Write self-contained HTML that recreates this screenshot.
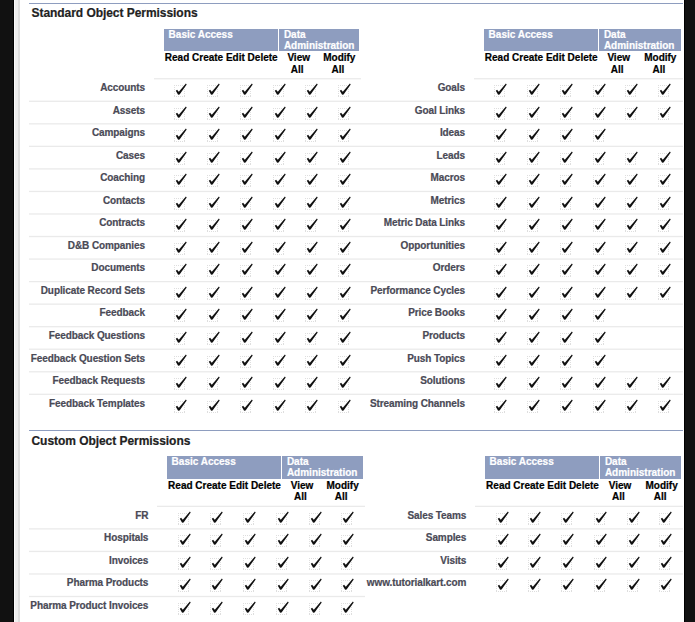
<!DOCTYPE html>
<html><head><meta charset="utf-8"><style>
html,body{margin:0;padding:0;width:695px;height:622px;overflow:hidden;background:#111;}
body{position:relative;font-family:"Liberation Sans",sans-serif;font-weight:700;}
body>div{position:absolute;white-space:nowrap;-webkit-text-stroke:0.2px currentColor;}
svg{display:block;}
</style></head><body>
<svg width="0" height="0" style="position:absolute"><defs><symbol id="ck" viewBox="0 0 18 18"><g fill="#dedede"><rect x="2" y="3" width="1" height="1"/><rect x="2" y="14" width="1" height="1"/><rect x="4" y="3" width="1" height="1"/><rect x="4" y="14" width="1" height="1"/><rect x="6" y="3" width="1" height="1"/><rect x="6" y="14" width="1" height="1"/><rect x="8" y="3" width="1" height="1"/><rect x="8" y="14" width="1" height="1"/><rect x="10" y="3" width="1" height="1"/><rect x="10" y="14" width="1" height="1"/><rect x="12" y="3" width="1" height="1"/><rect x="12" y="14" width="1" height="1"/><rect x="2" y="5" width="1" height="1"/><rect x="12" y="5" width="1" height="1"/><rect x="2" y="7" width="1" height="1"/><rect x="12" y="7" width="1" height="1"/><rect x="2" y="9" width="1" height="1"/><rect x="12" y="9" width="1" height="1"/><rect x="2" y="11" width="1" height="1"/><rect x="12" y="11" width="1" height="1"/><rect x="2" y="13" width="1" height="1"/><rect x="12" y="13" width="1" height="1"/></g><path d="M3.8 8.7 L5.1 7.7 L6.8 9.8 L13.9 1.6 L14.7 2.4 L7.6 12.4 L6.1 12.8 Z" fill="#111"/></symbol></defs></svg><div style="left:13px;top:0;width:1px;height:622px;background:#000"></div>
<div style="left:14px;top:0;width:1px;height:622px;background:#fafafa"></div>
<div style="left:15px;top:0;width:3px;height:622px;background:#eee"></div>
<div style="left:18px;top:0;width:2px;height:622px;background:#dedede"></div>
<div style="left:20px;top:0;width:664px;height:622px;background:#fff"></div>
<div style="left:684px;top:0;width:1px;height:622px;background:#000"></div>
<div style="left:29px;top:3px;width:654px;height:1px;background:#8e9dbf"></div>
<div style="left:31.5px;top:7px;font-size:12px;line-height:12px;color:#222;letter-spacing:-0.05px;">Standard Object Permissions</div>
<div style="left:164px;top:29px;width:114px;height:22px;background:#8e9dbf"></div>
<div style="left:279px;top:29px;width:80px;height:22px;background:#8e9dbf"></div>
<div style="left:168.6px;top:30px;font-size:10px;line-height:10px;color:#fff;letter-spacing:0px;">Basic Access</div>
<div style="left:283.9px;top:30px;font-size:10px;line-height:10px;color:#fff;letter-spacing:0px;">Data</div>
<div style="left:283.9px;top:41px;font-size:10px;line-height:10px;color:#fff;letter-spacing:0px;">Administration</div>
<div style="left:164.8px;top:53px;font-size:10px;line-height:10px;color:#000;letter-spacing:0px;">Read Create Edit Delete</div>
<div style="left:248.7px;width:100px;text-align:center;top:53px;font-size:10px;line-height:10px;color:#000;letter-spacing:0px;">View</div>
<div style="left:247.2px;width:100px;text-align:center;top:65px;font-size:10px;line-height:10px;color:#000;letter-spacing:0px;">All</div>
<div style="left:289.3px;width:100px;text-align:center;top:53px;font-size:10px;line-height:10px;color:#000;letter-spacing:0px;">Modify</div>
<div style="left:287.8px;width:100px;text-align:center;top:65px;font-size:10px;line-height:10px;color:#000;letter-spacing:0px;">All</div>
<div style="right:550px;top:83px;font-size:10px;line-height:10px;color:#4a4a56;letter-spacing:-0.09px;">Accounts</div>
<div style="left:172.4px;top:82.05px;width:18px;height:18px"><svg width="18" height="18"><use href="#ck"/></svg></div>
<div style="left:205.14px;top:82.05px;width:18px;height:18px"><svg width="18" height="18"><use href="#ck"/></svg></div>
<div style="left:237.88px;top:82.05px;width:18px;height:18px"><svg width="18" height="18"><use href="#ck"/></svg></div>
<div style="left:270.62px;top:82.05px;width:18px;height:18px"><svg width="18" height="18"><use href="#ck"/></svg></div>
<div style="left:303.36px;top:82.05px;width:18px;height:18px"><svg width="18" height="18"><use href="#ck"/></svg></div>
<div style="left:336.1px;top:82.05px;width:18px;height:18px"><svg width="18" height="18"><use href="#ck"/></svg></div>
<div style="right:550px;top:106px;font-size:10px;line-height:10px;color:#4a4a56;letter-spacing:-0.09px;">Assets</div>
<div style="left:172.4px;top:104.59px;width:18px;height:18px"><svg width="18" height="18"><use href="#ck"/></svg></div>
<div style="left:205.14px;top:104.59px;width:18px;height:18px"><svg width="18" height="18"><use href="#ck"/></svg></div>
<div style="left:237.88px;top:104.59px;width:18px;height:18px"><svg width="18" height="18"><use href="#ck"/></svg></div>
<div style="left:270.62px;top:104.59px;width:18px;height:18px"><svg width="18" height="18"><use href="#ck"/></svg></div>
<div style="left:303.36px;top:104.59px;width:18px;height:18px"><svg width="18" height="18"><use href="#ck"/></svg></div>
<div style="left:336.1px;top:104.59px;width:18px;height:18px"><svg width="18" height="18"><use href="#ck"/></svg></div>
<div style="right:550px;top:128px;font-size:10px;line-height:10px;color:#4a4a56;letter-spacing:-0.09px;">Campaigns</div>
<div style="left:172.4px;top:127.13px;width:18px;height:18px"><svg width="18" height="18"><use href="#ck"/></svg></div>
<div style="left:205.14px;top:127.13px;width:18px;height:18px"><svg width="18" height="18"><use href="#ck"/></svg></div>
<div style="left:237.88px;top:127.13px;width:18px;height:18px"><svg width="18" height="18"><use href="#ck"/></svg></div>
<div style="left:270.62px;top:127.13px;width:18px;height:18px"><svg width="18" height="18"><use href="#ck"/></svg></div>
<div style="left:303.36px;top:127.13px;width:18px;height:18px"><svg width="18" height="18"><use href="#ck"/></svg></div>
<div style="left:336.1px;top:127.13px;width:18px;height:18px"><svg width="18" height="18"><use href="#ck"/></svg></div>
<div style="right:550px;top:151px;font-size:10px;line-height:10px;color:#4a4a56;letter-spacing:-0.09px;">Cases</div>
<div style="left:172.4px;top:149.67px;width:18px;height:18px"><svg width="18" height="18"><use href="#ck"/></svg></div>
<div style="left:205.14px;top:149.67px;width:18px;height:18px"><svg width="18" height="18"><use href="#ck"/></svg></div>
<div style="left:237.88px;top:149.67px;width:18px;height:18px"><svg width="18" height="18"><use href="#ck"/></svg></div>
<div style="left:270.62px;top:149.67px;width:18px;height:18px"><svg width="18" height="18"><use href="#ck"/></svg></div>
<div style="left:303.36px;top:149.67px;width:18px;height:18px"><svg width="18" height="18"><use href="#ck"/></svg></div>
<div style="left:336.1px;top:149.67px;width:18px;height:18px"><svg width="18" height="18"><use href="#ck"/></svg></div>
<div style="right:550px;top:173px;font-size:10px;line-height:10px;color:#4a4a56;letter-spacing:-0.09px;">Coaching</div>
<div style="left:172.4px;top:172.21px;width:18px;height:18px"><svg width="18" height="18"><use href="#ck"/></svg></div>
<div style="left:205.14px;top:172.21px;width:18px;height:18px"><svg width="18" height="18"><use href="#ck"/></svg></div>
<div style="left:237.88px;top:172.21px;width:18px;height:18px"><svg width="18" height="18"><use href="#ck"/></svg></div>
<div style="left:270.62px;top:172.21px;width:18px;height:18px"><svg width="18" height="18"><use href="#ck"/></svg></div>
<div style="left:303.36px;top:172.21px;width:18px;height:18px"><svg width="18" height="18"><use href="#ck"/></svg></div>
<div style="left:336.1px;top:172.21px;width:18px;height:18px"><svg width="18" height="18"><use href="#ck"/></svg></div>
<div style="right:550px;top:196px;font-size:10px;line-height:10px;color:#4a4a56;letter-spacing:-0.09px;">Contacts</div>
<div style="left:172.4px;top:194.75px;width:18px;height:18px"><svg width="18" height="18"><use href="#ck"/></svg></div>
<div style="left:205.14px;top:194.75px;width:18px;height:18px"><svg width="18" height="18"><use href="#ck"/></svg></div>
<div style="left:237.88px;top:194.75px;width:18px;height:18px"><svg width="18" height="18"><use href="#ck"/></svg></div>
<div style="left:270.62px;top:194.75px;width:18px;height:18px"><svg width="18" height="18"><use href="#ck"/></svg></div>
<div style="left:303.36px;top:194.75px;width:18px;height:18px"><svg width="18" height="18"><use href="#ck"/></svg></div>
<div style="left:336.1px;top:194.75px;width:18px;height:18px"><svg width="18" height="18"><use href="#ck"/></svg></div>
<div style="right:550px;top:218px;font-size:10px;line-height:10px;color:#4a4a56;letter-spacing:-0.09px;">Contracts</div>
<div style="left:172.4px;top:217.29px;width:18px;height:18px"><svg width="18" height="18"><use href="#ck"/></svg></div>
<div style="left:205.14px;top:217.29px;width:18px;height:18px"><svg width="18" height="18"><use href="#ck"/></svg></div>
<div style="left:237.88px;top:217.29px;width:18px;height:18px"><svg width="18" height="18"><use href="#ck"/></svg></div>
<div style="left:270.62px;top:217.29px;width:18px;height:18px"><svg width="18" height="18"><use href="#ck"/></svg></div>
<div style="left:303.36px;top:217.29px;width:18px;height:18px"><svg width="18" height="18"><use href="#ck"/></svg></div>
<div style="left:336.1px;top:217.29px;width:18px;height:18px"><svg width="18" height="18"><use href="#ck"/></svg></div>
<div style="right:550px;top:241px;font-size:10px;line-height:10px;color:#4a4a56;letter-spacing:-0.09px;">D&amp;B Companies</div>
<div style="left:172.4px;top:239.83px;width:18px;height:18px"><svg width="18" height="18"><use href="#ck"/></svg></div>
<div style="left:205.14px;top:239.83px;width:18px;height:18px"><svg width="18" height="18"><use href="#ck"/></svg></div>
<div style="left:237.88px;top:239.83px;width:18px;height:18px"><svg width="18" height="18"><use href="#ck"/></svg></div>
<div style="left:270.62px;top:239.83px;width:18px;height:18px"><svg width="18" height="18"><use href="#ck"/></svg></div>
<div style="left:303.36px;top:239.83px;width:18px;height:18px"><svg width="18" height="18"><use href="#ck"/></svg></div>
<div style="left:336.1px;top:239.83px;width:18px;height:18px"><svg width="18" height="18"><use href="#ck"/></svg></div>
<div style="right:550px;top:263px;font-size:10px;line-height:10px;color:#4a4a56;letter-spacing:-0.09px;">Documents</div>
<div style="left:172.4px;top:262.37px;width:18px;height:18px"><svg width="18" height="18"><use href="#ck"/></svg></div>
<div style="left:205.14px;top:262.37px;width:18px;height:18px"><svg width="18" height="18"><use href="#ck"/></svg></div>
<div style="left:237.88px;top:262.37px;width:18px;height:18px"><svg width="18" height="18"><use href="#ck"/></svg></div>
<div style="left:270.62px;top:262.37px;width:18px;height:18px"><svg width="18" height="18"><use href="#ck"/></svg></div>
<div style="left:303.36px;top:262.37px;width:18px;height:18px"><svg width="18" height="18"><use href="#ck"/></svg></div>
<div style="left:336.1px;top:262.37px;width:18px;height:18px"><svg width="18" height="18"><use href="#ck"/></svg></div>
<div style="right:550px;top:286px;font-size:10px;line-height:10px;color:#4a4a56;letter-spacing:-0.09px;">Duplicate Record Sets</div>
<div style="left:172.4px;top:284.91px;width:18px;height:18px"><svg width="18" height="18"><use href="#ck"/></svg></div>
<div style="left:205.14px;top:284.91px;width:18px;height:18px"><svg width="18" height="18"><use href="#ck"/></svg></div>
<div style="left:237.88px;top:284.91px;width:18px;height:18px"><svg width="18" height="18"><use href="#ck"/></svg></div>
<div style="left:270.62px;top:284.91px;width:18px;height:18px"><svg width="18" height="18"><use href="#ck"/></svg></div>
<div style="left:303.36px;top:284.91px;width:18px;height:18px"><svg width="18" height="18"><use href="#ck"/></svg></div>
<div style="left:336.1px;top:284.91px;width:18px;height:18px"><svg width="18" height="18"><use href="#ck"/></svg></div>
<div style="right:550px;top:308px;font-size:10px;line-height:10px;color:#4a4a56;letter-spacing:-0.09px;">Feedback</div>
<div style="left:172.4px;top:307.45px;width:18px;height:18px"><svg width="18" height="18"><use href="#ck"/></svg></div>
<div style="left:205.14px;top:307.45px;width:18px;height:18px"><svg width="18" height="18"><use href="#ck"/></svg></div>
<div style="left:237.88px;top:307.45px;width:18px;height:18px"><svg width="18" height="18"><use href="#ck"/></svg></div>
<div style="left:270.62px;top:307.45px;width:18px;height:18px"><svg width="18" height="18"><use href="#ck"/></svg></div>
<div style="left:303.36px;top:307.45px;width:18px;height:18px"><svg width="18" height="18"><use href="#ck"/></svg></div>
<div style="left:336.1px;top:307.45px;width:18px;height:18px"><svg width="18" height="18"><use href="#ck"/></svg></div>
<div style="right:550px;top:331px;font-size:10px;line-height:10px;color:#4a4a56;letter-spacing:-0.09px;">Feedback Questions</div>
<div style="left:172.4px;top:329.99px;width:18px;height:18px"><svg width="18" height="18"><use href="#ck"/></svg></div>
<div style="left:205.14px;top:329.99px;width:18px;height:18px"><svg width="18" height="18"><use href="#ck"/></svg></div>
<div style="left:237.88px;top:329.99px;width:18px;height:18px"><svg width="18" height="18"><use href="#ck"/></svg></div>
<div style="left:270.62px;top:329.99px;width:18px;height:18px"><svg width="18" height="18"><use href="#ck"/></svg></div>
<div style="left:303.36px;top:329.99px;width:18px;height:18px"><svg width="18" height="18"><use href="#ck"/></svg></div>
<div style="left:336.1px;top:329.99px;width:18px;height:18px"><svg width="18" height="18"><use href="#ck"/></svg></div>
<div style="right:550px;top:354px;font-size:10px;line-height:10px;color:#4a4a56;letter-spacing:-0.09px;">Feedback Question Sets</div>
<div style="left:172.4px;top:352.53px;width:18px;height:18px"><svg width="18" height="18"><use href="#ck"/></svg></div>
<div style="left:205.14px;top:352.53px;width:18px;height:18px"><svg width="18" height="18"><use href="#ck"/></svg></div>
<div style="left:237.88px;top:352.53px;width:18px;height:18px"><svg width="18" height="18"><use href="#ck"/></svg></div>
<div style="left:270.62px;top:352.53px;width:18px;height:18px"><svg width="18" height="18"><use href="#ck"/></svg></div>
<div style="left:303.36px;top:352.53px;width:18px;height:18px"><svg width="18" height="18"><use href="#ck"/></svg></div>
<div style="left:336.1px;top:352.53px;width:18px;height:18px"><svg width="18" height="18"><use href="#ck"/></svg></div>
<div style="right:550px;top:376px;font-size:10px;line-height:10px;color:#4a4a56;letter-spacing:-0.09px;">Feedback Requests</div>
<div style="left:172.4px;top:375.07px;width:18px;height:18px"><svg width="18" height="18"><use href="#ck"/></svg></div>
<div style="left:205.14px;top:375.07px;width:18px;height:18px"><svg width="18" height="18"><use href="#ck"/></svg></div>
<div style="left:237.88px;top:375.07px;width:18px;height:18px"><svg width="18" height="18"><use href="#ck"/></svg></div>
<div style="left:270.62px;top:375.07px;width:18px;height:18px"><svg width="18" height="18"><use href="#ck"/></svg></div>
<div style="left:303.36px;top:375.07px;width:18px;height:18px"><svg width="18" height="18"><use href="#ck"/></svg></div>
<div style="left:336.1px;top:375.07px;width:18px;height:18px"><svg width="18" height="18"><use href="#ck"/></svg></div>
<div style="right:550px;top:399px;font-size:10px;line-height:10px;color:#4a4a56;letter-spacing:-0.09px;">Feedback Templates</div>
<div style="left:172.4px;top:397.61px;width:18px;height:18px"><svg width="18" height="18"><use href="#ck"/></svg></div>
<div style="left:205.14px;top:397.61px;width:18px;height:18px"><svg width="18" height="18"><use href="#ck"/></svg></div>
<div style="left:237.88px;top:397.61px;width:18px;height:18px"><svg width="18" height="18"><use href="#ck"/></svg></div>
<div style="left:270.62px;top:397.61px;width:18px;height:18px"><svg width="18" height="18"><use href="#ck"/></svg></div>
<div style="left:303.36px;top:397.61px;width:18px;height:18px"><svg width="18" height="18"><use href="#ck"/></svg></div>
<div style="left:336.1px;top:397.61px;width:18px;height:18px"><svg width="18" height="18"><use href="#ck"/></svg></div>
<div style="left:484px;top:29px;width:114px;height:22px;background:#8e9dbf"></div>
<div style="left:599px;top:29px;width:82px;height:22px;background:#8e9dbf"></div>
<div style="left:488.6px;top:30px;font-size:10px;line-height:10px;color:#fff;letter-spacing:0px;">Basic Access</div>
<div style="left:603.9px;top:30px;font-size:10px;line-height:10px;color:#fff;letter-spacing:0px;">Data</div>
<div style="left:603.9px;top:41px;font-size:10px;line-height:10px;color:#fff;letter-spacing:0px;">Administration</div>
<div style="left:484.8px;top:53px;font-size:10px;line-height:10px;color:#000;letter-spacing:0px;">Read Create Edit Delete</div>
<div style="left:568.7px;width:100px;text-align:center;top:53px;font-size:10px;line-height:10px;color:#000;letter-spacing:0px;">View</div>
<div style="left:567.2px;width:100px;text-align:center;top:65px;font-size:10px;line-height:10px;color:#000;letter-spacing:0px;">All</div>
<div style="left:610.3px;width:100px;text-align:center;top:53px;font-size:10px;line-height:10px;color:#000;letter-spacing:0px;">Modify</div>
<div style="left:608.8px;width:100px;text-align:center;top:65px;font-size:10px;line-height:10px;color:#000;letter-spacing:0px;">All</div>
<div style="right:230px;top:83px;font-size:10px;line-height:10px;color:#4a4a56;letter-spacing:-0.09px;">Goals</div>
<div style="left:492.4px;top:82.05px;width:18px;height:18px"><svg width="18" height="18"><use href="#ck"/></svg></div>
<div style="left:525.14px;top:82.05px;width:18px;height:18px"><svg width="18" height="18"><use href="#ck"/></svg></div>
<div style="left:557.88px;top:82.05px;width:18px;height:18px"><svg width="18" height="18"><use href="#ck"/></svg></div>
<div style="left:590.62px;top:82.05px;width:18px;height:18px"><svg width="18" height="18"><use href="#ck"/></svg></div>
<div style="left:623.36px;top:82.05px;width:18px;height:18px"><svg width="18" height="18"><use href="#ck"/></svg></div>
<div style="left:656.1px;top:82.05px;width:18px;height:18px"><svg width="18" height="18"><use href="#ck"/></svg></div>
<div style="right:230px;top:106px;font-size:10px;line-height:10px;color:#4a4a56;letter-spacing:-0.09px;">Goal Links</div>
<div style="left:492.4px;top:104.59px;width:18px;height:18px"><svg width="18" height="18"><use href="#ck"/></svg></div>
<div style="left:525.14px;top:104.59px;width:18px;height:18px"><svg width="18" height="18"><use href="#ck"/></svg></div>
<div style="left:557.88px;top:104.59px;width:18px;height:18px"><svg width="18" height="18"><use href="#ck"/></svg></div>
<div style="left:590.62px;top:104.59px;width:18px;height:18px"><svg width="18" height="18"><use href="#ck"/></svg></div>
<div style="left:623.36px;top:104.59px;width:18px;height:18px"><svg width="18" height="18"><use href="#ck"/></svg></div>
<div style="left:656.1px;top:104.59px;width:18px;height:18px"><svg width="18" height="18"><use href="#ck"/></svg></div>
<div style="right:230px;top:128px;font-size:10px;line-height:10px;color:#4a4a56;letter-spacing:-0.09px;">Ideas</div>
<div style="left:492.4px;top:127.13px;width:18px;height:18px"><svg width="18" height="18"><use href="#ck"/></svg></div>
<div style="left:525.14px;top:127.13px;width:18px;height:18px"><svg width="18" height="18"><use href="#ck"/></svg></div>
<div style="left:557.88px;top:127.13px;width:18px;height:18px"><svg width="18" height="18"><use href="#ck"/></svg></div>
<div style="left:590.62px;top:127.13px;width:18px;height:18px"><svg width="18" height="18"><use href="#ck"/></svg></div>
<div style="right:230px;top:151px;font-size:10px;line-height:10px;color:#4a4a56;letter-spacing:-0.09px;">Leads</div>
<div style="left:492.4px;top:149.67px;width:18px;height:18px"><svg width="18" height="18"><use href="#ck"/></svg></div>
<div style="left:525.14px;top:149.67px;width:18px;height:18px"><svg width="18" height="18"><use href="#ck"/></svg></div>
<div style="left:557.88px;top:149.67px;width:18px;height:18px"><svg width="18" height="18"><use href="#ck"/></svg></div>
<div style="left:590.62px;top:149.67px;width:18px;height:18px"><svg width="18" height="18"><use href="#ck"/></svg></div>
<div style="left:623.36px;top:149.67px;width:18px;height:18px"><svg width="18" height="18"><use href="#ck"/></svg></div>
<div style="left:656.1px;top:149.67px;width:18px;height:18px"><svg width="18" height="18"><use href="#ck"/></svg></div>
<div style="right:230px;top:173px;font-size:10px;line-height:10px;color:#4a4a56;letter-spacing:-0.09px;">Macros</div>
<div style="left:492.4px;top:172.21px;width:18px;height:18px"><svg width="18" height="18"><use href="#ck"/></svg></div>
<div style="left:525.14px;top:172.21px;width:18px;height:18px"><svg width="18" height="18"><use href="#ck"/></svg></div>
<div style="left:557.88px;top:172.21px;width:18px;height:18px"><svg width="18" height="18"><use href="#ck"/></svg></div>
<div style="left:590.62px;top:172.21px;width:18px;height:18px"><svg width="18" height="18"><use href="#ck"/></svg></div>
<div style="left:623.36px;top:172.21px;width:18px;height:18px"><svg width="18" height="18"><use href="#ck"/></svg></div>
<div style="left:656.1px;top:172.21px;width:18px;height:18px"><svg width="18" height="18"><use href="#ck"/></svg></div>
<div style="right:230px;top:196px;font-size:10px;line-height:10px;color:#4a4a56;letter-spacing:-0.09px;">Metrics</div>
<div style="left:492.4px;top:194.75px;width:18px;height:18px"><svg width="18" height="18"><use href="#ck"/></svg></div>
<div style="left:525.14px;top:194.75px;width:18px;height:18px"><svg width="18" height="18"><use href="#ck"/></svg></div>
<div style="left:557.88px;top:194.75px;width:18px;height:18px"><svg width="18" height="18"><use href="#ck"/></svg></div>
<div style="left:590.62px;top:194.75px;width:18px;height:18px"><svg width="18" height="18"><use href="#ck"/></svg></div>
<div style="left:623.36px;top:194.75px;width:18px;height:18px"><svg width="18" height="18"><use href="#ck"/></svg></div>
<div style="left:656.1px;top:194.75px;width:18px;height:18px"><svg width="18" height="18"><use href="#ck"/></svg></div>
<div style="right:230px;top:218px;font-size:10px;line-height:10px;color:#4a4a56;letter-spacing:-0.09px;">Metric Data Links</div>
<div style="left:492.4px;top:217.29px;width:18px;height:18px"><svg width="18" height="18"><use href="#ck"/></svg></div>
<div style="left:525.14px;top:217.29px;width:18px;height:18px"><svg width="18" height="18"><use href="#ck"/></svg></div>
<div style="left:557.88px;top:217.29px;width:18px;height:18px"><svg width="18" height="18"><use href="#ck"/></svg></div>
<div style="left:590.62px;top:217.29px;width:18px;height:18px"><svg width="18" height="18"><use href="#ck"/></svg></div>
<div style="left:623.36px;top:217.29px;width:18px;height:18px"><svg width="18" height="18"><use href="#ck"/></svg></div>
<div style="left:656.1px;top:217.29px;width:18px;height:18px"><svg width="18" height="18"><use href="#ck"/></svg></div>
<div style="right:230px;top:241px;font-size:10px;line-height:10px;color:#4a4a56;letter-spacing:-0.09px;">Opportunities</div>
<div style="left:492.4px;top:239.83px;width:18px;height:18px"><svg width="18" height="18"><use href="#ck"/></svg></div>
<div style="left:525.14px;top:239.83px;width:18px;height:18px"><svg width="18" height="18"><use href="#ck"/></svg></div>
<div style="left:557.88px;top:239.83px;width:18px;height:18px"><svg width="18" height="18"><use href="#ck"/></svg></div>
<div style="left:590.62px;top:239.83px;width:18px;height:18px"><svg width="18" height="18"><use href="#ck"/></svg></div>
<div style="left:623.36px;top:239.83px;width:18px;height:18px"><svg width="18" height="18"><use href="#ck"/></svg></div>
<div style="left:656.1px;top:239.83px;width:18px;height:18px"><svg width="18" height="18"><use href="#ck"/></svg></div>
<div style="right:230px;top:263px;font-size:10px;line-height:10px;color:#4a4a56;letter-spacing:-0.09px;">Orders</div>
<div style="left:492.4px;top:262.37px;width:18px;height:18px"><svg width="18" height="18"><use href="#ck"/></svg></div>
<div style="left:525.14px;top:262.37px;width:18px;height:18px"><svg width="18" height="18"><use href="#ck"/></svg></div>
<div style="left:557.88px;top:262.37px;width:18px;height:18px"><svg width="18" height="18"><use href="#ck"/></svg></div>
<div style="left:590.62px;top:262.37px;width:18px;height:18px"><svg width="18" height="18"><use href="#ck"/></svg></div>
<div style="left:623.36px;top:262.37px;width:18px;height:18px"><svg width="18" height="18"><use href="#ck"/></svg></div>
<div style="left:656.1px;top:262.37px;width:18px;height:18px"><svg width="18" height="18"><use href="#ck"/></svg></div>
<div style="right:230px;top:286px;font-size:10px;line-height:10px;color:#4a4a56;letter-spacing:-0.09px;">Performance Cycles</div>
<div style="left:492.4px;top:284.91px;width:18px;height:18px"><svg width="18" height="18"><use href="#ck"/></svg></div>
<div style="left:525.14px;top:284.91px;width:18px;height:18px"><svg width="18" height="18"><use href="#ck"/></svg></div>
<div style="left:557.88px;top:284.91px;width:18px;height:18px"><svg width="18" height="18"><use href="#ck"/></svg></div>
<div style="left:590.62px;top:284.91px;width:18px;height:18px"><svg width="18" height="18"><use href="#ck"/></svg></div>
<div style="left:623.36px;top:284.91px;width:18px;height:18px"><svg width="18" height="18"><use href="#ck"/></svg></div>
<div style="left:656.1px;top:284.91px;width:18px;height:18px"><svg width="18" height="18"><use href="#ck"/></svg></div>
<div style="right:230px;top:308px;font-size:10px;line-height:10px;color:#4a4a56;letter-spacing:-0.09px;">Price Books</div>
<div style="left:492.4px;top:307.45px;width:18px;height:18px"><svg width="18" height="18"><use href="#ck"/></svg></div>
<div style="left:525.14px;top:307.45px;width:18px;height:18px"><svg width="18" height="18"><use href="#ck"/></svg></div>
<div style="left:557.88px;top:307.45px;width:18px;height:18px"><svg width="18" height="18"><use href="#ck"/></svg></div>
<div style="left:590.62px;top:307.45px;width:18px;height:18px"><svg width="18" height="18"><use href="#ck"/></svg></div>
<div style="right:230px;top:331px;font-size:10px;line-height:10px;color:#4a4a56;letter-spacing:-0.09px;">Products</div>
<div style="left:492.4px;top:329.99px;width:18px;height:18px"><svg width="18" height="18"><use href="#ck"/></svg></div>
<div style="left:525.14px;top:329.99px;width:18px;height:18px"><svg width="18" height="18"><use href="#ck"/></svg></div>
<div style="left:557.88px;top:329.99px;width:18px;height:18px"><svg width="18" height="18"><use href="#ck"/></svg></div>
<div style="left:590.62px;top:329.99px;width:18px;height:18px"><svg width="18" height="18"><use href="#ck"/></svg></div>
<div style="right:230px;top:354px;font-size:10px;line-height:10px;color:#4a4a56;letter-spacing:-0.09px;">Push Topics</div>
<div style="left:492.4px;top:352.53px;width:18px;height:18px"><svg width="18" height="18"><use href="#ck"/></svg></div>
<div style="left:525.14px;top:352.53px;width:18px;height:18px"><svg width="18" height="18"><use href="#ck"/></svg></div>
<div style="left:557.88px;top:352.53px;width:18px;height:18px"><svg width="18" height="18"><use href="#ck"/></svg></div>
<div style="left:590.62px;top:352.53px;width:18px;height:18px"><svg width="18" height="18"><use href="#ck"/></svg></div>
<div style="right:230px;top:376px;font-size:10px;line-height:10px;color:#4a4a56;letter-spacing:-0.09px;">Solutions</div>
<div style="left:492.4px;top:375.07px;width:18px;height:18px"><svg width="18" height="18"><use href="#ck"/></svg></div>
<div style="left:525.14px;top:375.07px;width:18px;height:18px"><svg width="18" height="18"><use href="#ck"/></svg></div>
<div style="left:557.88px;top:375.07px;width:18px;height:18px"><svg width="18" height="18"><use href="#ck"/></svg></div>
<div style="left:590.62px;top:375.07px;width:18px;height:18px"><svg width="18" height="18"><use href="#ck"/></svg></div>
<div style="left:623.36px;top:375.07px;width:18px;height:18px"><svg width="18" height="18"><use href="#ck"/></svg></div>
<div style="left:656.1px;top:375.07px;width:18px;height:18px"><svg width="18" height="18"><use href="#ck"/></svg></div>
<div style="right:230px;top:399px;font-size:10px;line-height:10px;color:#4a4a56;letter-spacing:-0.09px;">Streaming Channels</div>
<div style="left:492.4px;top:397.61px;width:18px;height:18px"><svg width="18" height="18"><use href="#ck"/></svg></div>
<div style="left:525.14px;top:397.61px;width:18px;height:18px"><svg width="18" height="18"><use href="#ck"/></svg></div>
<div style="left:557.88px;top:397.61px;width:18px;height:18px"><svg width="18" height="18"><use href="#ck"/></svg></div>
<div style="left:590.62px;top:397.61px;width:18px;height:18px"><svg width="18" height="18"><use href="#ck"/></svg></div>
<div style="left:623.36px;top:397.61px;width:18px;height:18px"><svg width="18" height="18"><use href="#ck"/></svg></div>
<div style="left:656.1px;top:397.61px;width:18px;height:18px"><svg width="18" height="18"><use href="#ck"/></svg></div>
<div style="left:154px;top:78px;width:207px;height:1px;background:rgb(236, 236, 236)"></div>
<div style="left:154px;top:79px;width:207px;height:1px;background:rgb(247, 247, 247)"></div>
<div style="left:474px;top:78px;width:209px;height:1px;background:rgb(236, 236, 236)"></div>
<div style="left:474px;top:79px;width:209px;height:1px;background:rgb(247, 247, 247)"></div>
<div style="left:29px;top:100px;width:654px;height:1px;background:rgb(247, 247, 247)"></div>
<div style="left:29px;top:101px;width:654px;height:1px;background:rgb(235, 235, 235)"></div>
<div style="left:29px;top:123px;width:654px;height:1px;background:rgb(238, 238, 238)"></div>
<div style="left:29px;top:124px;width:654px;height:1px;background:rgb(245, 245, 245)"></div>
<div style="left:29px;top:145px;width:654px;height:1px;background:rgb(249, 249, 249)"></div>
<div style="left:29px;top:146px;width:654px;height:1px;background:rgb(234, 234, 234)"></div>
<div style="left:29px;top:168px;width:654px;height:1px;background:rgb(239, 239, 239)"></div>
<div style="left:29px;top:169px;width:654px;height:1px;background:rgb(243, 243, 243)"></div>
<div style="left:29px;top:190px;width:654px;height:1px;background:rgb(251, 251, 251)"></div>
<div style="left:29px;top:191px;width:654px;height:1px;background:rgb(234, 234, 234)"></div>
<div style="left:29px;top:192px;width:654px;height:1px;background:rgb(253, 253, 253)"></div>
<div style="left:29px;top:213px;width:654px;height:1px;background:rgb(241, 241, 241)"></div>
<div style="left:29px;top:214px;width:654px;height:1px;background:rgb(242, 242, 242)"></div>
<div style="left:29px;top:235px;width:654px;height:1px;background:rgb(252, 252, 252)"></div>
<div style="left:29px;top:236px;width:654px;height:1px;background:rgb(234, 234, 234)"></div>
<div style="left:29px;top:237px;width:654px;height:1px;background:rgb(251, 251, 251)"></div>
<div style="left:29px;top:258px;width:654px;height:1px;background:rgb(243, 243, 243)"></div>
<div style="left:29px;top:259px;width:654px;height:1px;background:rgb(240, 240, 240)"></div>
<div style="left:29px;top:281px;width:654px;height:1px;background:rgb(234, 234, 234)"></div>
<div style="left:29px;top:282px;width:654px;height:1px;background:rgb(250, 250, 250)"></div>
<div style="left:29px;top:303px;width:654px;height:1px;background:rgb(244, 244, 244)"></div>
<div style="left:29px;top:304px;width:654px;height:1px;background:rgb(238, 238, 238)"></div>
<div style="left:29px;top:326px;width:654px;height:1px;background:rgb(235, 235, 235)"></div>
<div style="left:29px;top:327px;width:654px;height:1px;background:rgb(248, 248, 248)"></div>
<div style="left:29px;top:348px;width:654px;height:1px;background:rgb(246, 246, 246)"></div>
<div style="left:29px;top:349px;width:654px;height:1px;background:rgb(237, 237, 237)"></div>
<div style="left:29px;top:371px;width:654px;height:1px;background:rgb(237, 237, 237)"></div>
<div style="left:29px;top:372px;width:654px;height:1px;background:rgb(246, 246, 246)"></div>
<div style="left:29px;top:393px;width:654px;height:1px;background:rgb(248, 248, 248)"></div>
<div style="left:29px;top:394px;width:654px;height:1px;background:rgb(235, 235, 235)"></div>
<div style="left:29px;top:430px;width:654px;height:1px;background:#8e9dbf"></div>
<div style="left:31.5px;top:435px;font-size:12px;line-height:12px;color:#222;letter-spacing:-0.05px;">Custom Object Permissions</div>
<div style="left:167px;top:456px;width:114px;height:23px;background:#8e9dbf"></div>
<div style="left:282px;top:456px;width:81px;height:23px;background:#8e9dbf"></div>
<div style="left:171.6px;top:457px;font-size:10px;line-height:10px;color:#fff;letter-spacing:0px;">Basic Access</div>
<div style="left:286.9px;top:457px;font-size:10px;line-height:10px;color:#fff;letter-spacing:0px;">Data</div>
<div style="left:286.9px;top:468px;font-size:10px;line-height:10px;color:#fff;letter-spacing:0px;">Administration</div>
<div style="left:168.1px;top:481px;font-size:10px;line-height:10px;color:#000;letter-spacing:0px;">Read Create Edit Delete</div>
<div style="left:252px;width:100px;text-align:center;top:481px;font-size:10px;line-height:10px;color:#000;letter-spacing:0px;">View</div>
<div style="left:250.5px;width:100px;text-align:center;top:492px;font-size:10px;line-height:10px;color:#000;letter-spacing:0px;">All</div>
<div style="left:292.6px;width:100px;text-align:center;top:481px;font-size:10px;line-height:10px;color:#000;letter-spacing:0px;">Modify</div>
<div style="left:291.1px;width:100px;text-align:center;top:492px;font-size:10px;line-height:10px;color:#000;letter-spacing:0px;">All</div>
<div style="right:546.7px;top:511px;font-size:10px;line-height:10px;color:#4a4a56;letter-spacing:-0.09px;">FR</div>
<div style="left:175.7px;top:509.65px;width:18px;height:18px"><svg width="18" height="18"><use href="#ck"/></svg></div>
<div style="left:208.44px;top:509.65px;width:18px;height:18px"><svg width="18" height="18"><use href="#ck"/></svg></div>
<div style="left:241.18px;top:509.65px;width:18px;height:18px"><svg width="18" height="18"><use href="#ck"/></svg></div>
<div style="left:273.92px;top:509.65px;width:18px;height:18px"><svg width="18" height="18"><use href="#ck"/></svg></div>
<div style="left:306.66px;top:509.65px;width:18px;height:18px"><svg width="18" height="18"><use href="#ck"/></svg></div>
<div style="left:339.4px;top:509.65px;width:18px;height:18px"><svg width="18" height="18"><use href="#ck"/></svg></div>
<div style="right:546.7px;top:533px;font-size:10px;line-height:10px;color:#4a4a56;letter-spacing:-0.09px;">Hospitals</div>
<div style="left:175.7px;top:532.19px;width:18px;height:18px"><svg width="18" height="18"><use href="#ck"/></svg></div>
<div style="left:208.44px;top:532.19px;width:18px;height:18px"><svg width="18" height="18"><use href="#ck"/></svg></div>
<div style="left:241.18px;top:532.19px;width:18px;height:18px"><svg width="18" height="18"><use href="#ck"/></svg></div>
<div style="left:273.92px;top:532.19px;width:18px;height:18px"><svg width="18" height="18"><use href="#ck"/></svg></div>
<div style="left:306.66px;top:532.19px;width:18px;height:18px"><svg width="18" height="18"><use href="#ck"/></svg></div>
<div style="left:339.4px;top:532.19px;width:18px;height:18px"><svg width="18" height="18"><use href="#ck"/></svg></div>
<div style="right:546.7px;top:556px;font-size:10px;line-height:10px;color:#4a4a56;letter-spacing:-0.09px;">Invoices</div>
<div style="left:175.7px;top:554.73px;width:18px;height:18px"><svg width="18" height="18"><use href="#ck"/></svg></div>
<div style="left:208.44px;top:554.73px;width:18px;height:18px"><svg width="18" height="18"><use href="#ck"/></svg></div>
<div style="left:241.18px;top:554.73px;width:18px;height:18px"><svg width="18" height="18"><use href="#ck"/></svg></div>
<div style="left:273.92px;top:554.73px;width:18px;height:18px"><svg width="18" height="18"><use href="#ck"/></svg></div>
<div style="left:306.66px;top:554.73px;width:18px;height:18px"><svg width="18" height="18"><use href="#ck"/></svg></div>
<div style="left:339.4px;top:554.73px;width:18px;height:18px"><svg width="18" height="18"><use href="#ck"/></svg></div>
<div style="right:546.7px;top:578px;font-size:10px;line-height:10px;color:#4a4a56;letter-spacing:-0.09px;">Pharma Products</div>
<div style="left:175.7px;top:577.27px;width:18px;height:18px"><svg width="18" height="18"><use href="#ck"/></svg></div>
<div style="left:208.44px;top:577.27px;width:18px;height:18px"><svg width="18" height="18"><use href="#ck"/></svg></div>
<div style="left:241.18px;top:577.27px;width:18px;height:18px"><svg width="18" height="18"><use href="#ck"/></svg></div>
<div style="left:273.92px;top:577.27px;width:18px;height:18px"><svg width="18" height="18"><use href="#ck"/></svg></div>
<div style="left:306.66px;top:577.27px;width:18px;height:18px"><svg width="18" height="18"><use href="#ck"/></svg></div>
<div style="left:339.4px;top:577.27px;width:18px;height:18px"><svg width="18" height="18"><use href="#ck"/></svg></div>
<div style="right:546.7px;top:601px;font-size:10px;line-height:10px;color:#4a4a56;letter-spacing:-0.09px;">Pharma Product Invoices</div>
<div style="left:175.7px;top:599.81px;width:18px;height:18px"><svg width="18" height="18"><use href="#ck"/></svg></div>
<div style="left:208.44px;top:599.81px;width:18px;height:18px"><svg width="18" height="18"><use href="#ck"/></svg></div>
<div style="left:241.18px;top:599.81px;width:18px;height:18px"><svg width="18" height="18"><use href="#ck"/></svg></div>
<div style="left:273.92px;top:599.81px;width:18px;height:18px"><svg width="18" height="18"><use href="#ck"/></svg></div>
<div style="left:306.66px;top:599.81px;width:18px;height:18px"><svg width="18" height="18"><use href="#ck"/></svg></div>
<div style="left:339.4px;top:599.81px;width:18px;height:18px"><svg width="18" height="18"><use href="#ck"/></svg></div>
<div style="left:485px;top:456px;width:114px;height:23px;background:#8e9dbf"></div>
<div style="left:600px;top:456px;width:81px;height:23px;background:#8e9dbf"></div>
<div style="left:489.6px;top:457px;font-size:10px;line-height:10px;color:#fff;letter-spacing:0px;">Basic Access</div>
<div style="left:604.9px;top:457px;font-size:10px;line-height:10px;color:#fff;letter-spacing:0px;">Data</div>
<div style="left:604.9px;top:468px;font-size:10px;line-height:10px;color:#fff;letter-spacing:0px;">Administration</div>
<div style="left:486.1px;top:481px;font-size:10px;line-height:10px;color:#000;letter-spacing:0px;">Read Create Edit Delete</div>
<div style="left:570px;width:100px;text-align:center;top:481px;font-size:10px;line-height:10px;color:#000;letter-spacing:0px;">View</div>
<div style="left:568.5px;width:100px;text-align:center;top:492px;font-size:10px;line-height:10px;color:#000;letter-spacing:0px;">All</div>
<div style="left:611.6px;width:100px;text-align:center;top:481px;font-size:10px;line-height:10px;color:#000;letter-spacing:0px;">Modify</div>
<div style="left:610.1px;width:100px;text-align:center;top:492px;font-size:10px;line-height:10px;color:#000;letter-spacing:0px;">All</div>
<div style="right:228.7px;top:511px;font-size:10px;line-height:10px;color:#4a4a56;letter-spacing:-0.09px;">Sales Teams</div>
<div style="left:493.7px;top:509.65px;width:18px;height:18px"><svg width="18" height="18"><use href="#ck"/></svg></div>
<div style="left:526.44px;top:509.65px;width:18px;height:18px"><svg width="18" height="18"><use href="#ck"/></svg></div>
<div style="left:559.18px;top:509.65px;width:18px;height:18px"><svg width="18" height="18"><use href="#ck"/></svg></div>
<div style="left:591.92px;top:509.65px;width:18px;height:18px"><svg width="18" height="18"><use href="#ck"/></svg></div>
<div style="left:624.66px;top:509.65px;width:18px;height:18px"><svg width="18" height="18"><use href="#ck"/></svg></div>
<div style="left:657.4px;top:509.65px;width:18px;height:18px"><svg width="18" height="18"><use href="#ck"/></svg></div>
<div style="right:228.7px;top:533px;font-size:10px;line-height:10px;color:#4a4a56;letter-spacing:-0.09px;">Samples</div>
<div style="left:493.7px;top:532.19px;width:18px;height:18px"><svg width="18" height="18"><use href="#ck"/></svg></div>
<div style="left:526.44px;top:532.19px;width:18px;height:18px"><svg width="18" height="18"><use href="#ck"/></svg></div>
<div style="left:559.18px;top:532.19px;width:18px;height:18px"><svg width="18" height="18"><use href="#ck"/></svg></div>
<div style="left:591.92px;top:532.19px;width:18px;height:18px"><svg width="18" height="18"><use href="#ck"/></svg></div>
<div style="left:624.66px;top:532.19px;width:18px;height:18px"><svg width="18" height="18"><use href="#ck"/></svg></div>
<div style="left:657.4px;top:532.19px;width:18px;height:18px"><svg width="18" height="18"><use href="#ck"/></svg></div>
<div style="right:228.7px;top:556px;font-size:10px;line-height:10px;color:#4a4a56;letter-spacing:-0.09px;">Visits</div>
<div style="left:493.7px;top:554.73px;width:18px;height:18px"><svg width="18" height="18"><use href="#ck"/></svg></div>
<div style="left:526.44px;top:554.73px;width:18px;height:18px"><svg width="18" height="18"><use href="#ck"/></svg></div>
<div style="left:559.18px;top:554.73px;width:18px;height:18px"><svg width="18" height="18"><use href="#ck"/></svg></div>
<div style="left:591.92px;top:554.73px;width:18px;height:18px"><svg width="18" height="18"><use href="#ck"/></svg></div>
<div style="left:624.66px;top:554.73px;width:18px;height:18px"><svg width="18" height="18"><use href="#ck"/></svg></div>
<div style="left:657.4px;top:554.73px;width:18px;height:18px"><svg width="18" height="18"><use href="#ck"/></svg></div>
<div style="right:228.7px;top:578px;font-size:10px;line-height:10px;color:#4a4a56;letter-spacing:-0.09px;">www.tutorialkart.com</div>
<div style="left:493.7px;top:577.27px;width:18px;height:18px"><svg width="18" height="18"><use href="#ck"/></svg></div>
<div style="left:526.44px;top:577.27px;width:18px;height:18px"><svg width="18" height="18"><use href="#ck"/></svg></div>
<div style="left:559.18px;top:577.27px;width:18px;height:18px"><svg width="18" height="18"><use href="#ck"/></svg></div>
<div style="left:591.92px;top:577.27px;width:18px;height:18px"><svg width="18" height="18"><use href="#ck"/></svg></div>
<div style="left:624.66px;top:577.27px;width:18px;height:18px"><svg width="18" height="18"><use href="#ck"/></svg></div>
<div style="left:657.4px;top:577.27px;width:18px;height:18px"><svg width="18" height="18"><use href="#ck"/></svg></div>
<div style="left:157px;top:505px;width:208px;height:1px;background:rgb(249, 249, 249)"></div>
<div style="left:157px;top:506px;width:208px;height:1px;background:rgb(234, 234, 234)"></div>
<div style="left:475px;top:505px;width:208px;height:1px;background:rgb(249, 249, 249)"></div>
<div style="left:475px;top:506px;width:208px;height:1px;background:rgb(234, 234, 234)"></div>
<div style="left:29px;top:528px;width:654px;height:1px;background:rgb(239, 239, 239)"></div>
<div style="left:29px;top:529px;width:654px;height:1px;background:rgb(244, 244, 244)"></div>
<div style="left:29px;top:550px;width:654px;height:1px;background:rgb(250, 250, 250)"></div>
<div style="left:29px;top:551px;width:654px;height:1px;background:rgb(234, 234, 234)"></div>
<div style="left:29px;top:552px;width:654px;height:1px;background:rgb(253, 253, 253)"></div>
<div style="left:29px;top:573px;width:654px;height:1px;background:rgb(241, 241, 241)"></div>
<div style="left:29px;top:574px;width:654px;height:1px;background:rgb(242, 242, 242)"></div>
<div style="left:29px;top:595px;width:336px;height:1px;background:rgb(252, 252, 252)"></div>
<div style="left:29px;top:596px;width:336px;height:1px;background:rgb(234, 234, 234)"></div>
<div style="left:29px;top:597px;width:336px;height:1px;background:rgb(252, 252, 252)"></div>
</body></html>
